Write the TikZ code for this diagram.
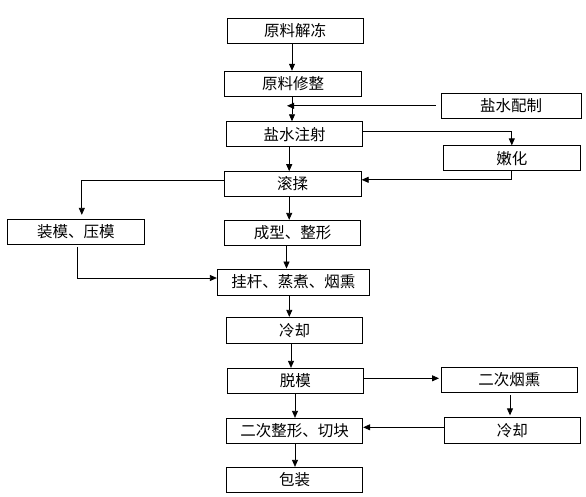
\documentclass[tikz,border=0pt]{standalone}
\usepackage{fontspec}
\newfontfamily\cjk{Noto Sans CJK SC}
\usetikzlibrary{arrows.meta}
\begin{document}
\begin{tikzpicture}[x=1pt,y=-1pt,
  box/.style={draw=black, line width=0.9pt, minimum width=136pt, minimum height=25pt, inner sep=0pt,
    font=\cjk\fontsize{15.5}{16}\selectfont},
  arr/.style={draw=black, line width=0.8pt, -{Triangle[length=7pt,width=6pt]}},
  ln/.style={draw=black, line width=0.8pt}]
\useasboundingbox[fill=white] (0,0) rectangle (586,496);
\node[box] (a1) at (295,31) {原料解冻};
\node[box, minimum width=137pt] (a2) at (293,83.7) {原料修整};
\node[box, minimum width=140pt] (s1) at (511,105.8) {盐水配制};
\node[box] (a3) at (294.7,134.2) {盐水注射};
\node[box, minimum width=137pt] (n1) at (511.8,158.3) {嫩化};
\node[box, minimum width=137pt, minimum height=24.3pt] (a4) at (292.7,183.8) {滚揉};
\node[box, minimum width=137pt] (m1) at (75.8,231.8) {装模、压模};
\node[box, minimum width=136.4pt, minimum height=25.4pt] (a5) at (292.5,233) {成型、整形};
\node[box, minimum width=152pt, minimum height=26pt] (a6) at (293.3,282) {挂杆、蒸煮、烟熏};
\node[box, minimum height=26pt] (a7) at (294.7,330.3) {冷却};
\node[box] (a8) at (295.3,380.8) {脱模};
\node[box, minimum width=136.7pt, minimum height=25.4pt] (r1) at (509.3,380) {二次烟熏};
\node[box, minimum height=26pt] (r2) at (512.3,430.3) {冷却};
\node[box] (a9) at (294.7,430.8) {二次整形、切块};
\node[box, minimum height=25.4pt] (a10) at (294.7,480) {包装};
\coordinate (j) at ([xshift=-1pt]a2.south);
% main column
\draw[arr] ([xshift=-3pt]a1.south) -- ([xshift=-3pt]a1.south |- a2.north);
\draw[arr] (j) -- (j |- a3.north);
\draw[arr] ([xshift=-5.5pt]a3.south) -- ([xshift=-5.5pt]a3.south |- a4.north);
\draw[arr] ([xshift=-3.5pt]a4.south) -- ([xshift=-3.5pt]a4.south |- a5.north);
\draw[arr] ([xshift=-6pt]a5.south) -- ([xshift=-6pt]a5.south |- a6.north);
\draw[arr] ([xshift=-4pt]a6.south) -- ([xshift=-4pt]a6.south |- a7.north);
\draw[arr] ([xshift=-3.7pt]a7.south) -- ([xshift=-3.7pt]a7.south |- a8.north);
\draw[arr] ([xshift=-0.3pt]a8.south) -- ([xshift=-0.3pt]a8.south |- a9.north);
\draw[arr] ([xshift=0.3pt]a9.south) -- ([xshift=0.3pt]a9.south |- a10.north);
% side branches
\draw[arr] ([xshift=-5pt]s1.west) -- ([xshift=-5pt]s1.west -| j);
\draw[arr] ([yshift=2.5pt]a3.east) -| (n1.north);
\draw[arr] (n1.south) |- ([yshift=4pt]a4.east);
\draw[arr, shorten >=4pt] ([yshift=3pt]a4.west) -| ([xshift=6pt]m1.north);
\draw[arr, shorten <=2pt] ([xshift=1.5pt]m1.south) |- ([yshift=4pt]a6.west);
\draw[arr, shorten >=1.5pt] ([yshift=2.5pt]a8.east) -- ([yshift=2.5pt]a8.east -| r1.west);
\draw[arr, shorten <=2pt, shorten >=1.5pt] ([xshift=0.7pt]r1.south) -- ([xshift=0.7pt]r1.south |- r2.north);
\draw[arr] ([yshift=3pt]r2.west) -- ([yshift=3pt]r2.west -| a9.east);
\end{tikzpicture}
\end{document}
